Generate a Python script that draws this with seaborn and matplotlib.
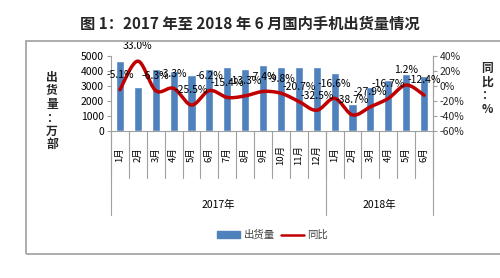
import numpy as np
import pandas as pd
import matplotlib
matplotlib.use("Agg")
import matplotlib.pyplot as plt
import matplotlib.transforms as mtransforms
from matplotlib.patches import Rectangle, Patch
from matplotlib.lines import Line2D
import seaborn as sns

# ---------------- data ----------------
months = ["1月", "2月", "3月", "4月", "5月", "6月", "7月", "8月", "9月", "10月", "11月", "12月",
          "1月", "2月", "3月", "4月", "5月", "6月"]
years = ["2017年", "2018年"]
year_counts = [12, 6]
shipments = [4670, 2950, 4110, 4000, 3730, 4110, 4290, 4110, 4400, 4240, 4290, 4240,
             3880, 1800, 2950, 3400, 3800, 3670]
yoy = [-5.1, 33.0, -6.3, -3.3, -25.5, -6.2, -15.4, -13.3, -7.4, -9.8, -20.7, -32.5,
       -16.6, -38.7, -27.9, -16.7, 1.2, -12.4]
yoy_labels = ["-5.1%", "33.0%", "-6.3%", "-3.3%", "-25.5%", "-6.2%", "-15.4%", "-13.3%", "-7.4%",
              "-9.8%", "-20.7%", "-32.5%", "-16.6%", "-38.7%", "-27.9%", "-16.7%", "1.2%", "-12.4%"]
left_ticks = [0, 1000, 2000, 3000, 4000, 5000]
right_ticks = [-60, -40, -20, 0, 20, 40]

title = "图 1：2017 年至 2018 年 6 月国内手机出货量情况"

sns.set_theme(style="white")
plt.rcParams['font.family'] = ['Noto Sans CJK SC', 'DejaVu Sans']

BAR = "#4F81BD"
LINE = "#C00000"

fig = plt.figure(figsize=(5.0, 2.78), dpi=100)
ax = fig.add_axes([0.222, 0.529, 0.644, 0.27])

keys = [f"k{i}" for i in range(len(months))]
df = pd.DataFrame({"key": keys, "shipments": shipments, "yoy": yoy})
sns.barplot(data=df, x="key", y="shipments", color=BAR, width=0.45, saturation=1, ax=ax)
ax.set_xlim(-0.5, len(months) - 0.5)
ax.set_ylim(0, 5000)
ax.set_yticks(left_ticks)
ax.set_yticklabels([str(t) for t in left_ticks], fontsize=7.5, color="#000000")
ax.set_xticks([])
ax.set_xlabel("")
ax.set_ylabel("")
ax.spines["top"].set_visible(False)
for s in ["left", "bottom", "right"]:
    ax.spines[s].set_color("#a0a0a0")
    ax.spines[s].set_linewidth(0.8)
ax.tick_params(axis="y", which="both", left=True, length=3, width=0.8, color="#a0a0a0", pad=2)

ax2 = ax.twinx()
ax2.set_ylim(-60, 40)
ax2.set_yticks(right_ticks)
ax2.set_yticklabels([f"{t}%" for t in right_ticks], fontsize=7.5)
ax2.tick_params(axis="y", right=True, length=3, width=0.8, color="#a0a0a0", pad=2)
for s in ["top", "left", "bottom"]:
    ax2.spines[s].set_visible(False)
ax2.spines["right"].set_color("#a0a0a0")
ax2.spines["right"].set_linewidth(0.8)
ax2.grid(False)
ax.grid(False)

# smooth (Catmull-Rom) drawing of the YoY line through the data points
x = np.arange(len(yoy), dtype=float)
y = np.asarray(yoy, dtype=float)
px = np.concatenate([[x[0]], x, [x[-1]]])
py = np.concatenate([[y[0]], y, [y[-1]]])
xs, ys = [], []
t = np.linspace(0, 1, 20)
for i in range(1, len(px) - 2):
    p0, p1, p2, p3 = (px[i-1], py[i-1]), (px[i], py[i]), (px[i+1], py[i+1]), (px[i+2], py[i+2])
    for arr, k in ((xs, 0), (ys, 1)):
        a0, a1, a2, a3 = p0[k], p1[k], p2[k], p3[k]
        arr.extend(0.5 * ((2 * a1) + (-a0 + a2) * t + (2 * a0 - 5 * a1 + 4 * a2 - a3) * t**2
                          + (-a0 + 3 * a1 - 3 * a2 + a3) * t**3))
sns.lineplot(x=xs, y=ys, ax=ax2, color=LINE, linewidth=2.5, sort=False, estimator=None)

for xi, yi, lab in zip(x, y, yoy_labels):
    ax2.annotate(lab, (xi, yi), xytext=(0, 7), textcoords="offset points",
                 ha="center", va="bottom", fontsize=7.5, color="#000000",
                 annotation_clip=False)

# category axis: month labels, separators, year labels
trans = mtransforms.blended_transform_factory(ax.transData, ax.transAxes)
for i, m in enumerate(months):
    ax.text(i, -0.32, m, rotation=90, ha="center", va="center", fontsize=6.8,
            transform=trans, color="#000000")
for i in range(len(months) + 1):
    ax.plot([i - 0.5, i - 0.5], [0, -0.63], transform=trans, color="#a0a0a0",
            lw=0.8, clip_on=False)
start = 0
bounds = [-0.5]
for yr, n in zip(years, year_counts):
    ax.text(start + (n - 1) / 2, -0.99, yr, ha="center", va="center", fontsize=7.5,
            transform=trans, color="#000000")
    start += n
    bounds.append(start - 0.5)
for b in bounds:
    ax.plot([b, b], [0, -1.12], transform=trans, color="#a0a0a0", lw=0.8, clip_on=False)

# axis titles (stacked vertical characters)
fig.text(0.104, 0.60, "出\n货\n量\n：\n万\n部", ha="center", va="center", fontsize=8.5,
         fontweight="bold", linespacing=1.05)
fig.text(0.974, 0.68, "同\n比\n：\n%", ha="center", va="center", fontsize=8.5,
         fontweight="bold", linespacing=1.05)

# title
fig.text(0.5, 0.915, title, ha="center", va="center", fontsize=11, fontweight="bold")

# legend
handles = [Patch(facecolor=BAR, edgecolor=BAR), Line2D([0], [0], color=LINE, lw=1.8)]
fig.legend(handles, ["出货量", "同比"], loc="center", bbox_to_anchor=(0.545, 0.155),
           ncol=2, frameon=False, fontsize=7.5, handlelength=2.2, handleheight=0.6,
           columnspacing=0.6, handletextpad=0.3, labelcolor="#404040")

# outer frame
fig.patches.append(Rectangle((0.052, 0.086), 1.0, 0.767, transform=fig.transFigure,
                             fill=False, edgecolor="#a6a6a6", lw=1.3, clip_on=False))

fig.savefig("out.png", dpi=100)
